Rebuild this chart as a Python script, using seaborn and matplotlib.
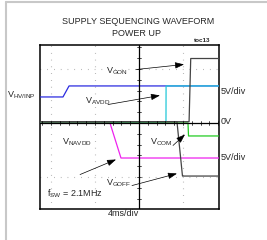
import matplotlib
matplotlib.use("Agg")
import matplotlib.pyplot as plt
from matplotlib.lines import Line2D
import numpy as np
import pandas as pd
import seaborn as sns

sns.set_theme(style="white")
plt.rcParams['font.family'] = ['Liberation Sans Narrow', 'Liberation Sans', 'DejaVu Sans']
plt.rcParams['mathtext.fontset'] = 'custom'
plt.rcParams['mathtext.rm'] = 'Liberation Sans'
plt.rcParams['mathtext.it'] = 'Liberation Sans'

# ---- data (time in ms, display volts at 5V/div) ----
hvinp_t = [0.0, 2.09, 2.64, 16.3]
hvinp_v = [2.41, 2.41, 3.43, 3.43]

avdd_t = [0.0, 11.45, 11.46, 16.3]
avdd_v = [0.0, 0.0, 3.43, 3.43]

navdd_t = [0.0, 6.36, 7.36, 16.3]
navdd_v = [0.0, 0.0, -3.24, -3.24]

com_t = [0.0, 13.45, 13.5, 16.3]
com_v = [0.0, 0.0, -1.2, -1.2]

gon_t = [0.0, 13.55, 13.7, 16.3]
gon_v = [0.12, 0.12, 5.97, 5.97]

goff_t = [0.0, 12.45, 12.95, 16.3]
goff_v = [0.12, 0.12, -4.91, -4.91]

grid_t = [1, 5, 13]
grid_v = [-5, 5]
center_t = 9
x_lim = (0, 16.27)
y_lim = (-7.96, 7.22)

W, H = 267, 240
fig = plt.figure(figsize=(W / 100, H / 100), dpi=100)
ax = fig.add_axes([40 / W, (H - 209) / H, 179 / W, 164 / H])
ax.set_xlim(*x_lim)
ax.set_ylim(*y_lim)

# dotted grid
for t in grid_t:
    ax.axvline(t, color='#999999', lw=0.8, ls=(0, (0.6, 5.5)), zorder=1)
for v in grid_v:
    ax.axhline(v, color='#999999', lw=0.8, ls=(0, (0.6, 5.5)), zorder=1)

# traces
traces = [
    ('VHVINP', hvinp_t, hvinp_v, '#2b2be0'),
    ('VAVDD', avdd_t, avdd_v, '#22c8d8'),
    ('VNAVDD', navdd_t, navdd_v, '#ee22ee'),
    ('VCOM', com_t, com_v, '#22cc22'),
    ('VGON', gon_t, gon_v, '#444444'),
    ('VGOFF', goff_t, goff_v, '#444444'),
]
for name, t, v, c in traces:
    df = pd.DataFrame({'t': t, 'v': v})
    sns.lineplot(data=df, x='t', y='v', sort=False, color=c, lw=0.9, ax=ax, zorder=3)

# center axes with ticks
ax.axvline(center_t, color='black', lw=0.9, zorder=4)
ax.axhline(0, color='black', lw=0.9, zorder=4)
for v in np.arange(-7, 7.5, 1.0):
    ax.plot([center_t - 0.22, center_t + 0.22], [v, v], color='black', lw=0.5, zorder=4)
for t in np.arange(0.2, 16.3, 0.8):
    ax.plot([t, t], [-0.18, 0.18], color='black', lw=0.5, zorder=4)

for s in ax.spines.values():
    s.set_color('black')
    s.set_linewidth(1.1)
ax.set_xticks([])
ax.set_yticks([])
ax.set_xlabel('')
ax.set_ylabel('')

# annotations
fs = 6.5
ap = dict(arrowstyle='-|>,head_length=0.45,head_width=0.16', color='black', lw=0.5, shrinkA=0, shrinkB=0)
ax.text(8.0, 4.8, r'V$_{\mathrm{GON}}$', ha='right', va='center', fontsize=fs)
ax.annotate('', xy=(13.09, 5.42), xytext=(8.73, 4.95), arrowprops=ap)
ax.text(5.23, 2.0, r'V$_{\mathrm{AVDD}}$', ha='center', va='center', fontsize=fs)
ax.annotate('', xy=(10.9, 2.55), xytext=(6.18, 1.71), arrowprops=ap)
ax.text(3.32, -1.75, r'V$_{\mathrm{NAVDD}}$', ha='center', va='center', fontsize=fs)
ax.annotate('', xy=(6.91, -3.38), xytext=(3.64, -4.77), arrowprops=ap)
ax.text(11.0, -1.75, r'V$_{\mathrm{COM}}$', ha='center', va='center', fontsize=fs)
ax.annotate('', xy=(13.18, -1.06), xytext=(12.09, -2.08), arrowprops=ap)
ax.text(7.18, -5.6, r'V$_{\mathrm{GOFF}}$', ha='center', va='center', fontsize=fs)
ax.annotate('', xy=(12.45, -4.68), xytext=(8.36, -5.79), arrowprops=ap)
ax.text(3.18, -6.55, r'f$_{\mathrm{SW}}$ = 2.1MHz', ha='center', va='center', fontsize=fs)

# figure texts
def ftext(x, y, s, **kw):
    fig.text(x / W, 1 - y / H, s, **kw)

ftext(138, 22, 'SUPPLY SEQUENCING WAVEFORM', ha='center', va='center', fontsize=6.5)
ftext(137, 33, 'POWER UP', ha='center', va='center', fontsize=6.5)
ftext(202, 40, 'toc13', ha='center', va='center', fontsize=4.5, fontweight='bold')
ftext(7, 95, r'V$_{\mathrm{HV/INP}}$', ha='left', va='center', fontsize=fs)
ftext(221, 92, '5V/div', ha='left', va='center', fontsize=fs)
ftext(221, 122, '0V', ha='left', va='center', fontsize=fs)
ftext(221, 158, '5V/div', ha='left', va='center', fontsize=fs)
ftext(123, 214, '4ms/div', ha='center', va='center', fontsize=fs)

# page frame
fig.add_artist(Line2D([6 / W, 6 / W], [0, 1 - 2 / H], color='#c8c8c8', lw=1.5))
fig.add_artist(Line2D([6 / W, 1], [1 - 2 / H, 1 - 2 / H], color='#c8c8c8', lw=1.5))

fig.savefig('out.png', dpi=100)
